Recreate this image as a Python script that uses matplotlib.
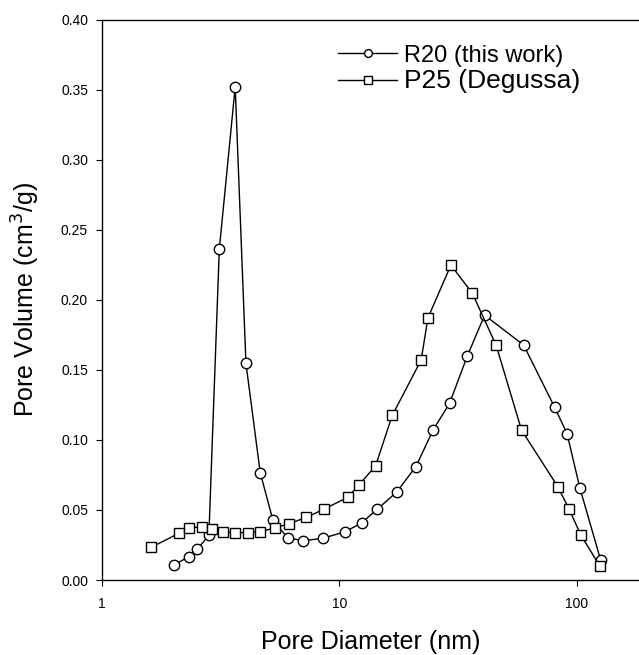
import numpy as np
import matplotlib
matplotlib.use("Agg")
from matplotlib import pyplot as plt
from matplotlib.ticker import FixedLocator, FixedFormatter, NullLocator

# R20 (this work) - circles
r20_d = [2.01, 2.32, 2.52, 2.82, 3.12, 3.64, 4.04, 4.64, 5.25, 6.05, 7.03, 8.53,
         10.6, 12.4, 14.4, 17.4, 21.0, 24.8, 29.1, 34.6, 40.9, 59.7, 80.7, 91.0,
         103, 126]
r20_v = [0.0107, 0.0166, 0.0219, 0.0319, 0.236, 0.352, 0.1546, 0.0766, 0.0426,
         0.0302, 0.028, 0.0298, 0.0345, 0.0407, 0.0504, 0.0626, 0.0809, 0.107,
         0.126, 0.160, 0.189, 0.1677, 0.1232, 0.1044, 0.0657, 0.0143]

# P25 (Degussa) - squares
p25_d = [1.61, 2.12, 2.33, 2.63, 2.92, 3.23, 3.63, 4.12, 4.64, 5.34, 6.15, 7.26,
         8.64, 10.9, 12.1, 14.2, 16.7, 22.1, 23.6, 29.5, 36.3, 45.7, 58.5, 83.2,
         92.9, 104, 125]
p25_v = [0.0233, 0.0335, 0.0371, 0.038, 0.0364, 0.0343, 0.0338, 0.0338, 0.0345,
         0.0371, 0.0402, 0.0447, 0.0507, 0.0592, 0.068, 0.0814, 0.1175, 0.157,
         0.187, 0.2248, 0.2046, 0.1677, 0.107, 0.0666, 0.0504, 0.0321, 0.010]

xticks = [1, 10, 100]
xtick_labels = ["1", "10", "100"]
yticks = [0.0, 0.05, 0.10, 0.15, 0.20, 0.25, 0.30, 0.35, 0.40]

plt.rcParams["font.family"] = ["Liberation Sans", "DejaVu Sans"]

fig = plt.figure(figsize=(6.39, 6.55), dpi=100)
ax = fig.add_axes([0.1596, 0.1145, 0.8404, 0.8557])

ax.plot(r20_d, r20_v, color="black", lw=1, marker="o", ms=7.5,
        mfc="white", mec="black", mew=1, label="R20 (this work)")
ax.plot(p25_d, p25_v, color="black", lw=1, marker="s", ms=7,
        mfc="white", mec="black", mew=1, label="P25 (Degussa)")

ax.set_xscale("log")
ax.set_xlim(1, 10 ** 2.262)
ax.set_ylim(0, 0.40)
ax.xaxis.set_major_locator(FixedLocator(xticks))
ax.xaxis.set_major_formatter(FixedFormatter(xtick_labels))
ax.xaxis.set_minor_locator(NullLocator())
ax.set_yticks(yticks)
ax.set_yticklabels(["%.2f" % v for v in yticks])
ax.tick_params(direction="out", length=4, width=0.8, labelsize=10)
ax.tick_params(axis="x", pad=8)
ax.tick_params(axis="y", pad=6)
ax.spines["right"].set_visible(False)
for s in ["left", "top", "bottom"]:
    ax.spines[s].set_linewidth(1)

ax.set_xlabel("Pore Diameter (nm)", fontsize=18, labelpad=14)
ax.set_ylabel("Pore Volume (cm$^3$/g)", fontsize=18, labelpad=14)

leg = ax.legend(loc="upper left", bbox_to_anchor=(0.44, 0.955), frameon=False,
                prop={"size": 17}, handlelength=2.5, handletextpad=0.3,
                labelspacing=0.1, borderaxespad=0.0, borderpad=0.0,
                markerscale=0.75)
leg.get_texts()[1].set_fontsize(19)

fig.savefig("out.png", dpi=100)
